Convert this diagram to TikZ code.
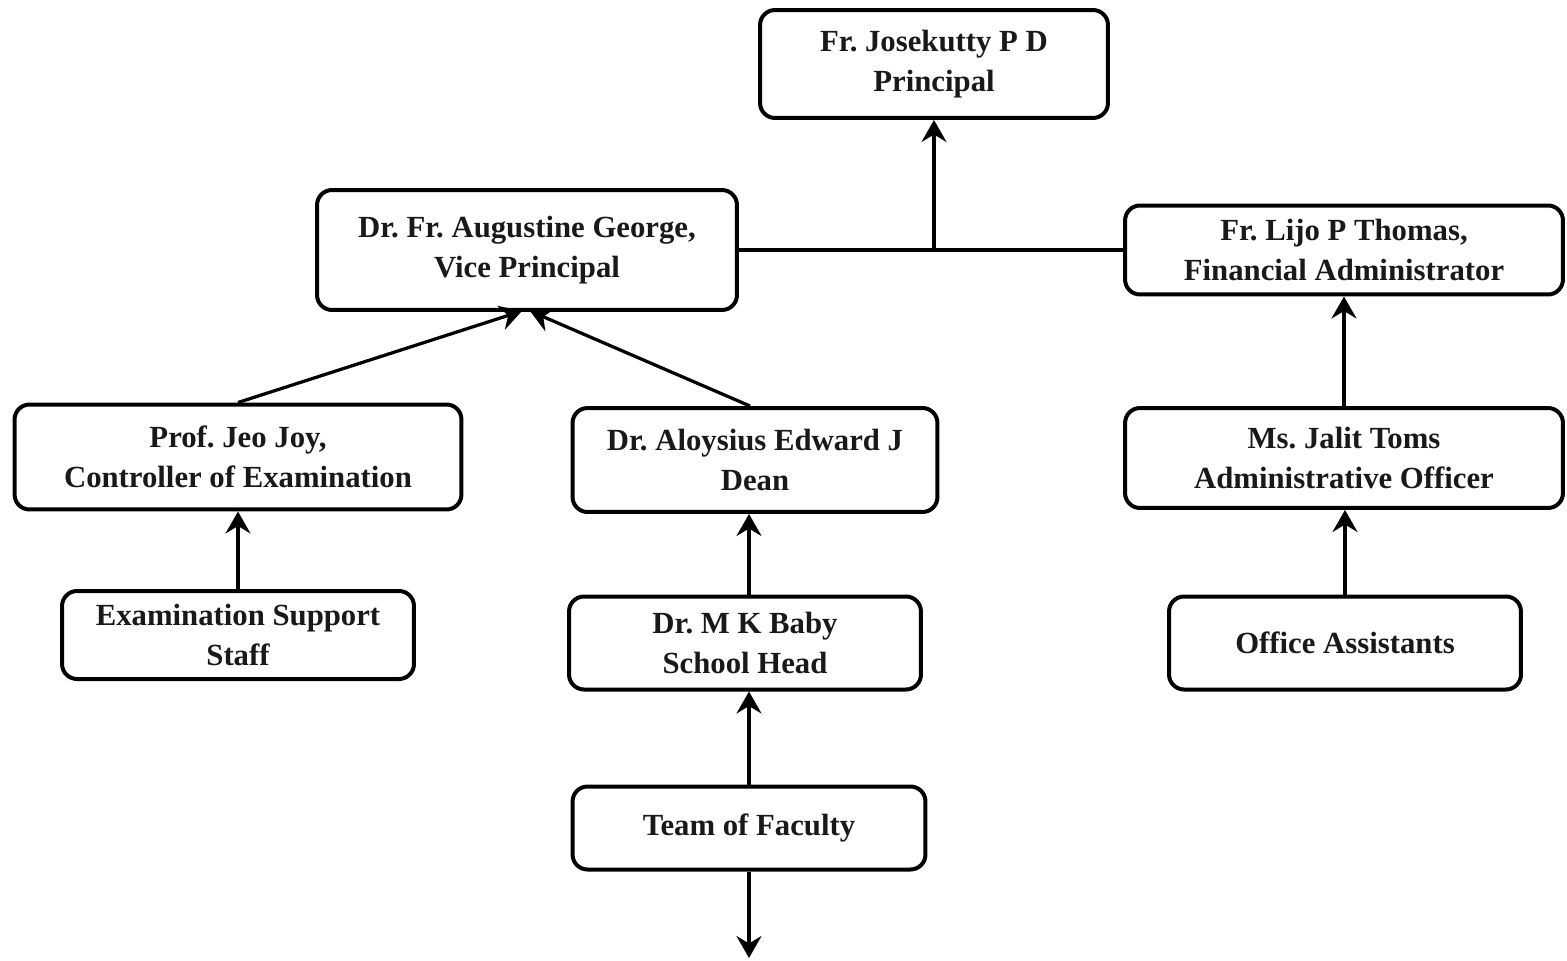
\documentclass[tikz,border=0pt]{standalone}
\usepackage{fontspec}
\setmainfont{Liberation Serif}
\usetikzlibrary{arrows.meta}
\begin{document}
\begin{tikzpicture}[x=0.02cm,y=-0.02cm,
  box/.style={draw=black, line width=0.08cm, rounded corners=0.3cm, align=center, inner sep=0pt,
    font=\fontsize{17.5}{22.8}\selectfont\bfseries, text=black!90},
  conn/.style={line width=0.065cm, -{Stealth[length=0.44cm, width=0.5cm, inset=0.15cm]}},
  plain/.style={line width=0.065cm}]
\useasboundingbox (0,0) rectangle (1567,960);
\node[box, minimum width=6.96cm, minimum height=2.16cm] (pr) at (934,64) {Fr.\ Josekutty P D\\Principal};
\node[box, minimum width=8.4cm, minimum height=2.4cm] (vp) at (527,250) {Dr.\ Fr.\ Augustine George,\\Vice Principal};
\node[box, minimum width=8.76cm, minimum height=1.78cm] (fa) at (1344,250) {Fr.\ Lijo P Thomas,\\Financial Administrator};
\node[box, minimum width=8.94cm, minimum height=2.1cm] (ce) at (238,457) {Prof.\ Jeo Joy,\\Controller of Examination};
\node[box, minimum width=7.3cm, minimum height=2.08cm] (dn) at (755,460) {Dr.\ Aloysius Edward J\\Dean};
\node[box, minimum width=8.76cm, minimum height=2.0cm] (ao) at (1344,458) {Ms.\ Jalit Toms\\Administrative Officer};
\node[box, minimum width=7.04cm, minimum height=1.76cm] (es) at (238,635) {Examination Support\\Staff};
\node[box, minimum width=7.04cm, minimum height=1.86cm] (sh) at (745,643) {Dr.\ M K Baby\\School Head};
\node[box, minimum width=7.04cm, minimum height=1.86cm] (oa) at (1345,643) {Office Assistants};
\node[box, minimum width=7.06cm, minimum height=1.66cm] (tf) at (749,828) {Team of Faculty};
\coordinate (jn) at (934,249);
\coordinate (down) at (749,958);
\coordinate (vpl) at (522,311);
\coordinate (vpr) at (530,311);
\draw[plain] (vp.east) -- (fa.west);
\draw[conn] (jn) -- (pr.south);
\draw[conn] (ce.north) -- (vpl);
\draw[conn] ([xshift=-0.1cm]dn.north) -- (vpr);
\draw[conn] (es.north) -- (ce.south);
\draw[conn] (tf.north |- sh.north) -- (tf.north |- dn.south);
\draw[conn] (tf.north) -- (tf.north |- sh.south);
\draw[conn] (tf.south) -- (down);
\draw[conn] (ao.north) -- (fa.south);
\draw[conn] (oa.north) -- (oa.north |- ao.south);
\end{tikzpicture}
\end{document}
